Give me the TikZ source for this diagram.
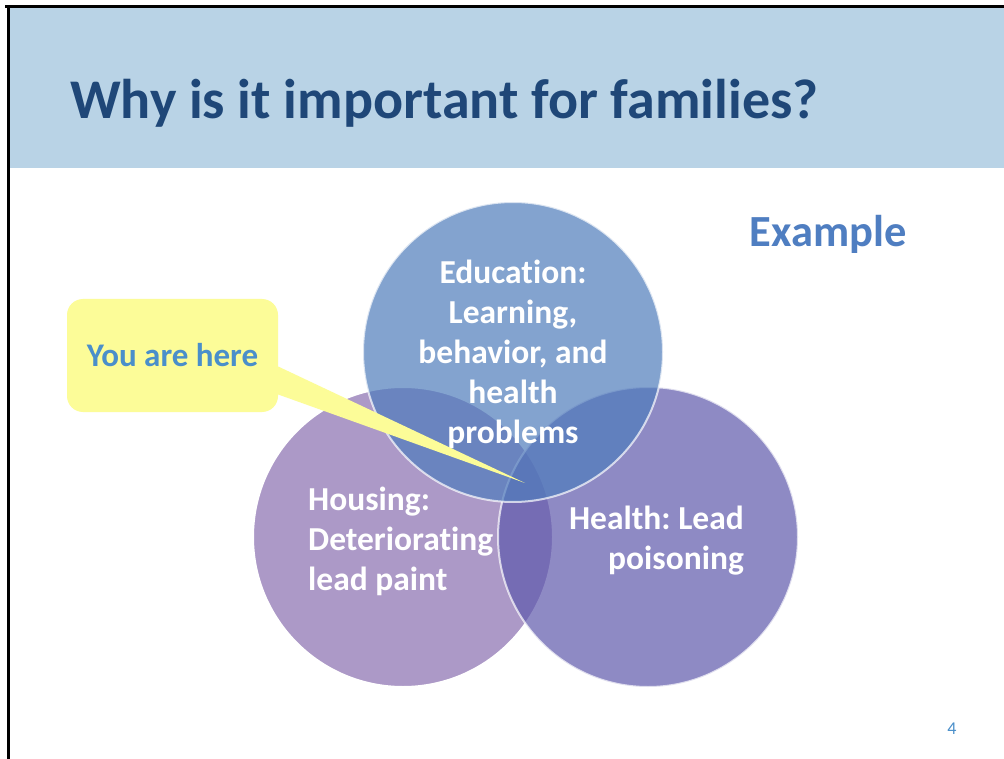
\documentclass[tikz,border=0pt]{standalone}
\usepackage{fontspec}
\setmainfont{Carlito}[Ligatures=NoCommon]
\usepackage{tikz}
\usetikzlibrary{calc}
\frenchspacing

\definecolor{band}{HTML}{B9D3E6}
\definecolor{titleblue}{HTML}{1F4778}
\definecolor{edublue}{RGB}{79,124,188}
\definecolor{healthviolet}{RGB}{95,89,172}
\definecolor{houselilac}{HTML}{AC99C7}
\definecolor{noteyellow}{HTML}{FCFC98}
\definecolor{noteblue}{HTML}{4A8FCA}
\definecolor{exblue}{HTML}{4F7EC1}

\begin{document}
\begin{tikzpicture}[x=1pt, y=-1pt,
  venn/.style={circle, minimum size=300pt, inner sep=0pt, draw=white, line width=2pt},
  seethru/.style={fill opacity=0.7, draw opacity=0.7},
  vennlabel/.style={text=white, inner sep=0pt, font=\bfseries\fontsize{33.5}{40}\selectfont}]
% Slide frame
\fill[white] (0,0) rectangle (1004,759);
\useasboundingbox (0,0) rectangle (1004,759);
\fill[band] (10,8) rectangle (1004,168);
\fill[black] (5,5) rectangle (1004,8);
\fill[black] (7,5) rectangle (10,759);

\node[anchor=base west, inner sep=0pt, text=titleblue, font=\bfseries\fontsize{56}{66}\selectfont] (title) at (70,119) {Why is it important for families?};

% Circles
\node[venn, fill=houselilac] (housing) at (403,537) {};
\node[venn, seethru, fill=healthviolet] (health) at (648,537) {};
\node[venn, seethru, fill=edublue] (education) at (513,352) {};

\node[vennlabel, align=center] (edutext) at (513,354) {Education:\\Learning,\\behavior, and\\health\\problems};
\node[vennlabel, align=left, anchor=west] (housetext) at (308,541) {Housing:\\Deteriorating\\lead paint};
\node[vennlabel, align=right, anchor=east] (healthtext) at (744,541) {Health: Lead\\poisoning};

\node[text=exblue, font=\bfseries\fontsize{44.5}{52}\selectfont] (example) at (828,234) {Example};

% Callout
\node[fill=noteyellow, rounded corners=16pt, minimum width=211pt, minimum height=113pt, text=noteblue, font=\bfseries\fontsize{33}{40}\selectfont] (here) at (172.5,355.5) {You are here};
\coordinate (spot) at (525,483);
\fill[noteyellow] ($(here.east)+(0,11)$) -- (spot) -- ($(here.east)+(0,39)$) -- cycle;

\node[text=noteblue, font=\fontsize{18}{21}\selectfont] (page) at (952,729) {4};
\end{tikzpicture}
\end{document}
